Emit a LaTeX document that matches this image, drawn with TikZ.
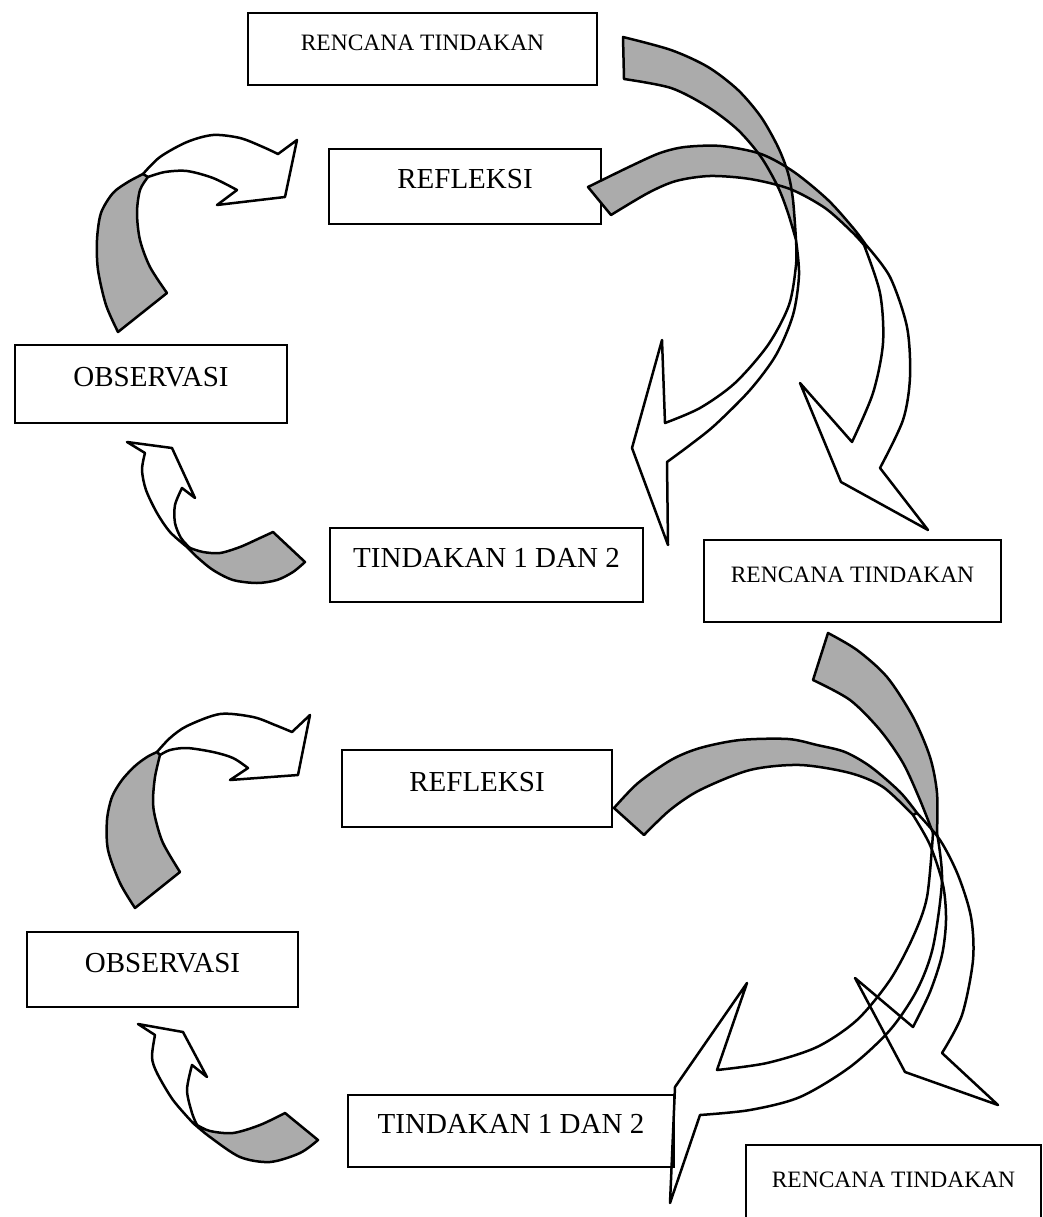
\documentclass[tikz,border=0pt]{standalone}
\usepackage{fontspec}
\setmainfont{Liberation Serif}

\begin{document}
\begin{tikzpicture}[x=1pt,y=-1pt,
                    box/.style={draw,line width=2.4pt,inner sep=0pt,text height=19pt,text depth=14pt,
                                font=\fontsize{29}{34}\selectfont},
                    small box/.style={box,text height=15.5pt,text depth=12pt,font=\fontsize{23.5}{28}\selectfont},
                    band/.style={line width=2.5pt,line join=round},
                    shade/.style={fill=black!33}
                   ]
  \useasboundingbox (0,0) rectangle (1043,1217);

  % first cycle
  \node[small box,minimum width=349pt,minimum height=72pt] (rencana1) at (422.5,49) {RENCANA TINDAKAN};
  \node[box,minimum width=272pt,minimum height=75pt] (refleksi1) at (465,186.5) {REFLEKSI};
  \node[box,minimum width=272pt,minimum height=78pt] (observasi1) at (151,384) {OBSERVASI};
  \node[box,minimum width=313pt,minimum height=74pt] (tindakan1) at (486.5,565) {TINDAKAN 1 DAN 2};
  \node[small box,minimum width=297pt,minimum height=82pt] (rencana2) at (852.5,581) {RENCANA TINDAKAN};

  % second cycle
  \node[box,minimum width=270pt,minimum height=77pt] (refleksi2) at (477,788.5) {REFLEKSI};
  \node[box,minimum width=271pt,minimum height=75pt] (observasi2) at (162.5,969.5) {OBSERVASI};
  \node[box,minimum width=326pt,minimum height=72pt] (tindakan2) at (511,1131) {TINDAKAN 1 DAN 2};
  \node[small box,minimum width=295pt,minimum height=82pt] (rencana3) at (893.5,1186) {RENCANA TINDAKAN};

  % shaded back of each curved arrow (kept so the outlines go on top)
  \path[save path=\backAone]
    plot[smooth] coordinates {(118,332) (106,305) (98,270) (97,240) (101,213) (113,193) (128,182) (143,174)}
    -- plot[smooth] coordinates {(148,177) (140,190) (137,213) (140,240) (150,267) (167,293)} -- cycle;
  \path[save path=\backAtwo]
    plot[smooth] coordinates {(273,532) (260,538) (240,547) (220,553) (203,552) (190,548)}
    -- plot[smooth] coordinates {(187,547) (197,557) (213,570) (233,580) (257,583) (277,580) (293,572) (305,562)} -- cycle;
  \path[save path=\backAthree]
    plot[smooth] coordinates {(623,37) (671,50) (708,67) (738,90) (761,117) (778,147) (788,173) (793,200) (796,240)}
    -- plot[smooth] coordinates {(796,240) (788,213) (778,187) (761,157) (738,130) (708,107) (671,88) (624,79)} -- cycle;
  \path[save path=\backAfour]
    plot[smooth] coordinates {(588,187) (631,166) (660,153) (685,147) (721,146) (761,154) (794,172) (828,200) (854,229) (866,245)}
    -- plot[smooth] coordinates {(864,245) (852,232) (825,208) (790,189) (750,179) (710,176) (676,181) (648,193) (611,215)} -- cycle;
  \path[save path=\backBone]
    plot[smooth] coordinates {(135,908) (120,883) (108,850) (107,820) (112,797) (122,780) (135,766) (147,757) (157,752)}
    -- plot[smooth] coordinates {(160,755) (155,777) (153,800) (155,817) (163,843) (180,872)} -- cycle;
  \path[save path=\backBtwo]
    plot[smooth] coordinates {(285,1113) (260,1125) (233,1133) (210,1131) (197,1125)}
    -- plot[smooth] coordinates {(193,1123) (210,1137) (240,1157) (270,1162) (300,1153) (318,1140)} -- cycle;
  \path[save path=\backBthree]
    plot[smooth] coordinates {(828,633) (857,650) (887,677) (913,717) (930,757) (937,793) (937,833)}
    -- plot[smooth] coordinates {(933,833) (920,800) (903,763) (880,730) (850,700) (813,680)} -- cycle;
  \path[save path=\backBfour]
    plot[smooth] coordinates {(614,808) (638,783) (671,760) (700,748) (740,740) (788,739) (817,745) (845,752) (871,767) (900,792) (917,813)}
    -- plot[smooth] coordinates {(913,815) (883,787) (850,773) (800,765) (750,770) (700,790) (670,810) (644,835)} -- cycle;

  \foreach \p in {\backAone,\backAtwo,\backAthree,\backAfour,\backBone,\backBtwo,\backBthree,\backBfour}
    \fill[shade,use path=\p];
  \foreach \p in {\backAone,\backAtwo,\backAthree,\backAfour,\backBone,\backBtwo,\backBthree,\backBfour}
    \draw[band,use path=\p];

  % front of each arrow with its head
  \draw[band] plot[smooth] coordinates {(143,174) (160,157) (187,142) (213,135) (240,138) (263,147) (278,154)}
    -- (297,140) -- (285,197) -- (217,205)
    -- plot[smooth] coordinates {(237,190) (213,178) (187,171) (165,172) (148,177)};
  \draw[band] plot[smooth] coordinates {(187,547) (170,532) (157,513) (146,490) (142,470) (145,453)}
    -- (127,442) -- (172,448) -- (195,498)
    -- plot[smooth] coordinates {(182,488) (175,505) (175,523) (181,538) (190,548)};
  \draw[band] plot[smooth] coordinates {(796,240) (799,275) (793,315) (776,355) (750,390) (715,425) (690,445) (667,462)}
    -- (668,545) -- (632,448) -- (662,340)
    -- plot[smooth] coordinates {(665,423) (700,408) (735,383) (768,345) (789,305) (796,265) (796,240)};
  \draw[band] plot[smooth] coordinates {(866,245) (890,277) (907,327) (910,377) (903,420) (880,468)}
    -- (928,530) -- (841,482) -- (800,383)
    -- plot[smooth] coordinates {(852,442) (873,393) (883,343) (880,293) (864,245)};

  \draw[band] plot[smooth] coordinates {(157,752) (170,738) (187,726) (220,714) (253,717) (275,725) (292,732)}
    -- (310,715) -- (298,775) -- (230,780)
    -- plot[smooth] coordinates {(248,768) (233,758) (213,752) (187,748) (170,750) (160,755)};
  \draw[band] plot[smooth] coordinates {(193,1123) (173,1100) (157,1073) (152,1057) (155,1035)}
    -- (138,1024) -- (183,1032) -- (207,1077)
    -- plot[smooth] coordinates {(192,1065) (187,1090) (192,1113) (197,1125)};
  \draw[band] plot[smooth] coordinates {(937,833) (942,880) (933,947) (917,990) (890,1030) (850,1067) (800,1097) (750,1110) (700,1115)}
    -- (670,1203) -- (675,1087) -- (747,983)
    -- plot[smooth] coordinates {(717,1070) (767,1063) (817,1047) (857,1020) (890,980) (913,937) (927,897) (933,833)};
  \draw[band] plot[smooth] coordinates {(917,813) (940,840) (958,875) (971,917) (973,960) (962,1015) (942,1053)}
    -- (998,1105) -- (905,1072) -- (855,978)
    -- plot[smooth] coordinates {(913,1027) (930,992) (942,955) (946,920) (943,885) (930,845) (913,815)};
\end{tikzpicture}
\end{document}
